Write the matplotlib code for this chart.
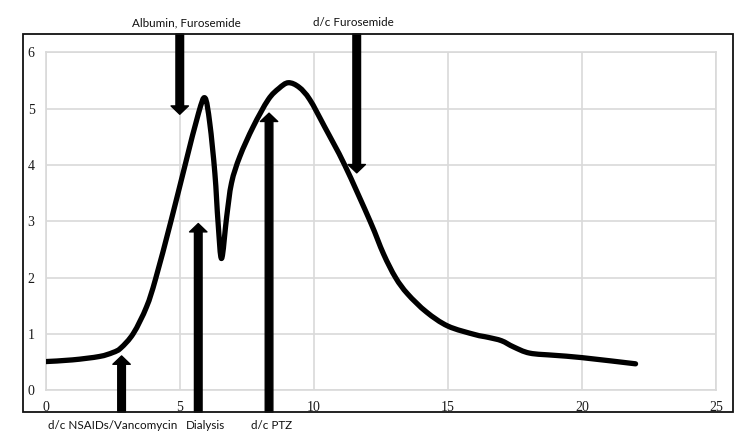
import matplotlib
matplotlib.use("Agg")
import matplotlib.pyplot as plt
import numpy as np
from matplotlib.patches import Rectangle, PathPatch
from matplotlib.path import Path

# Curve data
day = [0, 1, 2, 2.5, 2.8, 3.27, 3.76, 4.1, 4.67, 5.2, 5.7, 5.94, 6.12, 6.31, 6.43,
       6.56, 6.75, 6.93, 7.24, 7.74, 8.3, 8.7, 9.05, 9.45, 9.85, 10.4, 11.15,
       12.1, 12.6, 13.05, 13.5, 14.2, 15.0, 16.0, 16.5, 17.0, 17.45, 18.05, 19.0,
       20.0, 22.0]
value = [0.51, 0.54, 0.6, 0.67, 0.75, 1.01, 1.48, 1.98, 3.0, 4.0, 4.92, 5.19, 4.74,
         3.85, 2.97, 2.34, 3.08, 3.68, 4.15, 4.68, 5.16, 5.36, 5.46, 5.38, 5.16,
         4.68, 4.0, 3.0, 2.42, 2.0, 1.71, 1.39, 1.14, 0.99, 0.94, 0.88, 0.77, 0.66,
         0.62, 0.58, 0.47]

x_ticks = [0, 5, 10, 15, 20, 25]
y_ticks = [0, 1, 2, 3, 4, 5, 6]

# Annotations
top_labels = ["Albumin, Furosemide", "d/c Furosemide"]
top_arrow_x = [5.0, 11.6]
top_arrow_tip = [4.9, 3.86]
top_label_x = [5.23, 11.49]

bottom_labels = ["d/c NSAIDs/Vancomycin", "Dialysis", "d/c PTZ"]
bottom_arrow_x = [2.83, 5.69, 8.33]
bottom_arrow_tip = [0.61, 2.96, 4.92]
bottom_label_x = [2.49, 5.96, 8.43]

W, H = 750, 442
fig = plt.figure(figsize=(W / 100, H / 100), dpi=100)
ax = fig.add_axes([45.7 / W, 1 - 390.3 / H, (716 - 45.7) / W, (390.3 - 52.3) / H])

grid_c = "#d9d9d9"
ax.set_xlim(0, 25)
ax.set_ylim(0, 6)
ax.set_xticks(x_ticks)
ax.set_yticks(y_ticks)
ax.grid(True, color=grid_c, lw=1.2)
ax.set_axisbelow(True)
for s in ax.spines.values():
    s.set_color(grid_c)
    s.set_linewidth(1.2)
ax.tick_params(length=0, labelsize=10, pad=8, labelcolor="#1a1a1a")
for lab in ax.get_xticklabels() + ax.get_yticklabels():
    lab.set_family("Liberation Serif")

# Smoothed line (Excel-style smoothing via cubic Bezier through the data points)
P = np.column_stack([day, value])
n = len(P)
verts = [P[0]]
codes = [Path.MOVETO]
for i in range(n - 1):
    p0 = P[max(i - 1, 0)]
    p1 = P[i]
    p2 = P[i + 1]
    p3 = P[min(i + 2, n - 1)]
    c1 = p1 + (p2 - p0) / 6.0
    c2 = p2 - (p3 - p1) / 6.0
    verts += [c1, c2, p2]
    codes += [Path.CURVE4] * 3
curve = PathPatch(Path(verts, codes), fill=False, edgecolor="black", lw=3.8,
                  capstyle="round", joinstyle="round", zorder=3)
ax.add_patch(curve)

# outer frame
fig.patches.append(Rectangle((23 / W, 1 - 412 / H), 710 / W, 378 / H,
                             transform=fig.transFigure, fill=False,
                             edgecolor="#111111", lw=1.3))

label_font = "Lato"
label_size = 8.4
arrow_style = "simple,head_length=0.6,head_width=1.25,tail_width=0.55"
y_top = (390.3 - 34) / 56.33
y_bot = (390.3 - 412) / 56.33
for lx, x, tip, lab in zip(top_label_x, top_arrow_x, top_arrow_tip, top_labels):
    ax.annotate("", xy=(x, tip), xytext=(x, y_top),
                arrowprops=dict(arrowstyle=arrow_style, color="black",
                                mutation_scale=10, shrinkA=0, shrinkB=0),
                annotation_clip=False, zorder=4)
    ax.text(lx, (390.3 - 23) / 56.33, lab, ha="center", va="center",
            fontsize=label_size, family=label_font, color="#111111", clip_on=False)

for lx, x, tip, lab in zip(bottom_label_x, bottom_arrow_x, bottom_arrow_tip, bottom_labels):
    ax.annotate("", xy=(x, tip), xytext=(x, y_bot),
                arrowprops=dict(arrowstyle=arrow_style, color="black",
                                mutation_scale=10, shrinkA=0, shrinkB=0),
                annotation_clip=False, zorder=4)
    ax.text(lx, (390.3 - 425) / 56.33, lab, ha="center", va="center",
            fontsize=label_size, family=label_font, color="#111111", clip_on=False)

fig.savefig("out.png", dpi=100)
